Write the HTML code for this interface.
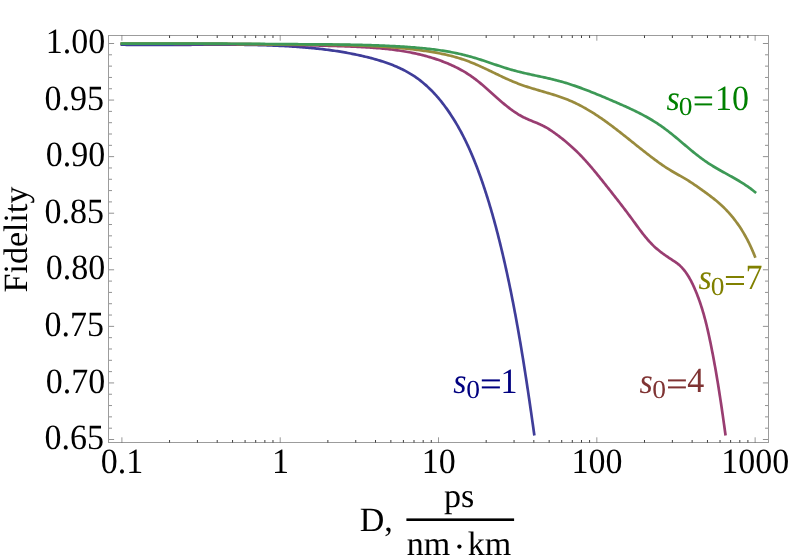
<!DOCTYPE html>
<html><head><meta charset="utf-8"><title>Fidelity vs D</title>
<style>
html,body{margin:0;padding:0;background:#fff;}
body{width:789px;height:557px;overflow:hidden;position:relative;font-family:"Liberation Serif",serif;}
</style></head><body>
<svg width="789" height="557" viewBox="0 0 789 557" style="display:block;position:absolute;left:0;top:0;will-change:transform">
<rect width="789" height="557" fill="#ffffff"/>
<g fill="none" stroke-linecap="square" stroke-linejoin="round" stroke-width="2.70">
<path stroke="#3f3d99" d="M121.90,44.71 L123.39,44.74 L124.89,44.76 L126.38,44.79 L127.88,44.81 L129.37,44.84 L130.87,44.86 L132.36,44.87 L133.86,44.89 L135.35,44.91 L136.85,44.92 L138.35,44.93 L139.84,44.94 L141.34,44.95 L142.84,44.96 L144.33,44.97 L145.83,44.98 L147.33,44.98 L148.83,44.98 L150.33,44.99 L151.82,44.99 L153.32,44.99 L154.82,44.99 L156.32,44.98 L157.82,44.98 L159.32,44.98 L160.82,44.97 L162.32,44.97 L163.82,44.96 L165.32,44.96 L166.82,44.95 L168.32,44.94 L169.82,44.93 L171.32,44.92 L172.82,44.92 L174.32,44.91 L175.82,44.90 L177.32,44.89 L178.82,44.87 L180.32,44.86 L181.82,44.85 L183.33,44.84 L184.83,44.83 L186.33,44.82 L187.83,44.81 L189.33,44.80 L190.83,44.78 L192.33,44.77 L193.84,44.76 L195.34,44.75 L196.84,44.74 L198.34,44.73 L199.84,44.72 L201.34,44.71 L202.85,44.70 L204.35,44.69 L205.85,44.68 L207.35,44.67 L208.85,44.67 L210.36,44.66 L211.86,44.65 L213.36,44.65 L214.86,44.64 L216.36,44.64 L217.86,44.64 L219.36,44.64 L220.87,44.63 L222.37,44.63 L223.87,44.63 L225.37,44.64 L226.87,44.64 L228.37,44.64 L229.87,44.65 L231.37,44.66 L232.87,44.66 L234.37,44.67 L235.87,44.68 L237.38,44.70 L238.88,44.71 L240.38,44.73 L241.88,44.74 L243.38,44.76 L244.87,44.78 L246.37,44.80 L247.87,44.82 L249.37,44.85 L250.87,44.88 L252.37,44.90 L253.87,44.94 L255.37,44.97 L256.87,45.00 L258.36,45.04 L259.86,45.08 L261.36,45.12 L262.86,45.16 L264.35,45.21 L265.85,45.25 L267.35,45.30 L268.84,45.36 L270.34,45.41 L271.84,45.47 L273.33,45.53 L274.83,45.59 L276.32,45.65 L277.82,45.72 L279.31,45.79 L280.81,45.86 L282.30,45.94 L283.79,46.01 L285.29,46.09 L286.78,46.18 L288.27,46.26 L289.77,46.35 L291.26,46.45 L292.75,46.54 L294.24,46.64 L295.73,46.74 L297.22,46.85 L298.71,46.95 L300.20,47.06 L301.69,47.18 L303.18,47.30 L304.67,47.42 L306.16,47.55 L307.65,47.67 L309.14,47.81 L310.63,47.95 L312.11,48.09 L313.60,48.23 L315.09,48.38 L316.57,48.54 L318.06,48.70 L319.54,48.86 L321.03,49.03 L322.51,49.20 L324.00,49.38 L325.48,49.56 L326.96,49.75 L328.45,49.94 L329.93,50.14 L331.41,50.34 L332.89,50.55 L334.37,50.77 L335.86,50.99 L337.34,51.21 L338.82,51.44 L340.30,51.68 L341.77,51.93 L343.25,52.18 L344.73,52.43 L346.21,52.69 L347.69,52.96 L349.16,53.24 L350.64,53.52 L352.11,53.80 L353.59,54.10 L355.06,54.40 L356.54,54.70 L358.01,55.02 L359.48,55.34 L360.96,55.67 L362.43,56.00 L363.90,56.34 L365.37,56.69 L366.84,57.05 L368.30,57.41 L369.77,57.78 L371.23,58.16 L372.69,58.55 L374.15,58.95 L375.60,59.36 L377.05,59.77 L378.50,60.20 L379.94,60.64 L381.38,61.09 L382.82,61.55 L384.25,62.02 L385.67,62.50 L387.09,63.00 L388.50,63.51 L389.91,64.03 L391.31,64.56 L392.70,65.10 L394.08,65.66 L395.46,66.24 L396.83,66.82 L398.19,67.43 L399.55,68.04 L400.89,68.67 L402.23,69.32 L403.56,69.98 L404.87,70.66 L406.18,71.36 L407.48,72.07 L408.77,72.80 L410.04,73.55 L411.31,74.31 L412.56,75.09 L413.80,75.89 L415.03,76.71 L416.25,77.55 L417.45,78.40 L418.65,79.28 L419.83,80.17 L421.00,81.08 L422.15,82.01 L423.30,82.95 L424.43,83.91 L425.55,84.89 L426.66,85.88 L427.75,86.88 L428.84,87.91 L429.91,88.94 L430.97,89.99 L432.02,91.06 L433.06,92.13 L434.09,93.22 L435.11,94.33 L436.11,95.44 L437.11,96.57 L438.09,97.71 L439.07,98.85 L440.03,100.01 L440.98,101.19 L441.92,102.37 L442.85,103.56 L443.77,104.75 L444.67,105.96 L445.57,107.18 L446.46,108.40 L447.34,109.63 L448.20,110.87 L449.06,112.12 L449.91,113.37 L450.75,114.63 L451.57,115.90 L452.39,117.17 L453.20,118.44 L453.99,119.72 L454.78,121.01 L455.56,122.29 L456.33,123.59 L457.09,124.88 L457.84,126.19 L458.58,127.49 L459.31,128.80 L460.04,130.11 L460.75,131.43 L461.46,132.75 L462.16,134.08 L462.85,135.41 L463.53,136.74 L464.21,138.08 L464.87,139.42 L465.53,140.76 L466.19,142.11 L466.83,143.46 L467.47,144.81 L468.10,146.16 L468.72,147.52 L469.33,148.89 L469.94,150.25 L470.54,151.62 L471.14,152.99 L471.73,154.36 L472.31,155.74 L472.89,157.12 L473.46,158.50 L474.03,159.88 L474.58,161.27 L475.14,162.66 L475.69,164.05 L476.23,165.44 L476.77,166.84 L477.30,168.23 L477.83,169.63 L478.35,171.03 L478.87,172.44 L479.38,173.84 L479.89,175.25 L480.39,176.66 L480.89,178.06 L481.39,179.48 L481.88,180.89 L482.37,182.30 L482.86,183.72 L483.34,185.13 L483.81,186.55 L484.29,187.97 L484.76,189.39 L485.22,190.81 L485.68,192.24 L486.14,193.66 L486.60,195.09 L487.05,196.51 L487.50,197.94 L487.94,199.37 L488.39,200.80 L488.82,202.23 L489.26,203.66 L489.69,205.09 L490.12,206.53 L490.55,207.96 L490.97,209.40 L491.39,210.84 L491.80,212.28 L492.22,213.72 L492.63,215.16 L493.03,216.60 L493.44,218.04 L493.84,219.48 L494.24,220.92 L494.63,222.37 L495.03,223.81 L495.42,225.26 L495.80,226.71 L496.19,228.15 L496.57,229.60 L496.95,231.05 L497.33,232.50 L497.70,233.95 L498.07,235.40 L498.44,236.85 L498.81,238.30 L499.18,239.76 L499.54,241.21 L499.90,242.66 L500.26,244.12 L500.61,245.57 L500.97,247.03 L501.32,248.48 L501.67,249.94 L502.02,251.40 L502.36,252.85 L502.71,254.31 L503.05,255.77 L503.39,257.23 L503.73,258.68 L504.06,260.14 L504.40,261.60 L504.73,263.06 L505.06,264.52 L505.39,265.98 L505.71,267.44 L506.04,268.90 L506.36,270.36 L506.68,271.83 L507.00,273.29 L507.32,274.75 L507.63,276.21 L507.95,277.68 L508.26,279.14 L508.57,280.60 L508.88,282.07 L509.19,283.53 L509.49,284.99 L509.80,286.46 L510.10,287.92 L510.40,289.39 L510.70,290.86 L511.00,292.32 L511.29,293.79 L511.59,295.26 L511.88,296.72 L512.17,298.19 L512.46,299.66 L512.75,301.13 L513.04,302.59 L513.32,304.06 L513.60,305.53 L513.89,307.00 L514.17,308.47 L514.45,309.94 L514.72,311.41 L515.00,312.88 L515.28,314.35 L515.55,315.82 L515.82,317.29 L516.09,318.76 L516.36,320.24 L516.63,321.71 L516.90,323.18 L517.16,324.65 L517.43,326.13 L517.69,327.60 L517.95,329.07 L518.21,330.55 L518.47,332.02 L518.73,333.49 L518.99,334.97 L519.24,336.44 L519.50,337.92 L519.75,339.39 L520.00,340.87 L520.26,342.34 L520.51,343.82 L520.75,345.29 L521.00,346.77 L521.25,348.25 L521.50,349.72 L521.74,351.20 L521.98,352.68 L522.23,354.16 L522.47,355.63 L522.71,357.11 L522.95,358.59 L523.19,360.07 L523.42,361.55 L523.66,363.02 L523.90,364.50 L524.13,365.98 L524.37,367.46 L524.60,368.94 L524.83,370.42 L525.06,371.90 L525.29,373.38 L525.52,374.86 L525.75,376.34 L525.98,377.82 L526.21,379.30 L526.44,380.78 L526.66,382.26 L526.89,383.75 L527.11,385.23 L527.33,386.71 L527.56,388.19 L527.78,389.67 L528.00,391.16 L528.22,392.64 L528.44,394.12 L528.66,395.60 L528.88,397.09 L529.10,398.57 L529.32,400.05 L529.54,401.53 L529.75,403.02 L529.97,404.50 L530.18,405.99 L530.40,407.47 L530.61,408.95 L530.83,410.44 L531.04,411.92 L531.26,413.41 L531.47,414.89 L531.68,416.38 L531.89,417.86 L532.10,419.34 L532.32,420.83 L532.53,422.32 L532.74,423.80 L532.95,425.29 L533.16,426.77 L533.37,428.26 L533.58,429.74 L533.78,431.23 L533.99,432.71 L534.20,434.20"/>
<path stroke="#993d71" d="M121.90,43.74 L123.40,43.74 L124.90,43.74 L126.41,43.74 L127.91,43.74 L129.41,43.74 L130.91,43.74 L132.41,43.74 L133.91,43.74 L135.42,43.74 L136.92,43.74 L138.42,43.74 L139.92,43.74 L141.42,43.75 L142.92,43.75 L144.42,43.75 L145.92,43.75 L147.42,43.75 L148.92,43.75 L150.42,43.75 L151.92,43.75 L153.42,43.75 L154.92,43.75 L156.42,43.75 L157.92,43.75 L159.42,43.76 L160.92,43.76 L162.41,43.76 L163.91,43.76 L165.41,43.76 L166.91,43.76 L168.41,43.77 L169.91,43.77 L171.41,43.77 L172.90,43.77 L174.40,43.78 L175.90,43.78 L177.40,43.78 L178.90,43.78 L180.40,43.79 L181.89,43.79 L183.39,43.80 L184.89,43.80 L186.39,43.80 L187.88,43.81 L189.38,43.81 L190.88,43.82 L192.38,43.82 L193.87,43.83 L195.37,43.83 L196.87,43.84 L198.37,43.84 L199.86,43.85 L201.36,43.85 L202.86,43.86 L204.35,43.87 L205.85,43.87 L207.35,43.88 L208.85,43.89 L210.34,43.90 L211.84,43.90 L213.34,43.91 L214.83,43.92 L216.33,43.93 L217.83,43.94 L219.32,43.95 L220.82,43.96 L222.32,43.97 L223.81,43.98 L225.31,43.99 L226.81,44.00 L228.30,44.01 L229.80,44.02 L231.30,44.04 L232.79,44.05 L234.29,44.06 L235.79,44.07 L237.29,44.09 L238.78,44.10 L240.28,44.11 L241.78,44.13 L243.27,44.14 L244.77,44.16 L246.27,44.18 L247.76,44.19 L249.26,44.21 L250.76,44.22 L252.25,44.24 L253.75,44.26 L255.25,44.28 L256.75,44.30 L258.24,44.32 L259.74,44.33 L261.24,44.35 L262.74,44.37 L264.23,44.40 L265.73,44.42 L267.23,44.44 L268.73,44.46 L270.22,44.48 L271.72,44.51 L273.22,44.53 L274.72,44.55 L276.21,44.58 L277.71,44.60 L279.21,44.63 L280.71,44.65 L282.21,44.68 L283.70,44.71 L285.20,44.74 L286.70,44.76 L288.20,44.79 L289.70,44.82 L291.20,44.85 L292.70,44.88 L294.20,44.91 L295.69,44.94 L297.19,44.98 L298.69,45.01 L300.19,45.04 L301.69,45.07 L303.19,45.11 L304.69,45.14 L306.19,45.18 L307.69,45.22 L309.19,45.25 L310.69,45.29 L312.19,45.33 L313.69,45.37 L315.19,45.40 L316.69,45.44 L318.19,45.48 L319.69,45.53 L321.20,45.57 L322.70,45.61 L324.20,45.65 L325.70,45.70 L327.20,45.74 L328.70,45.78 L330.20,45.83 L331.71,45.88 L333.21,45.92 L334.71,45.97 L336.21,46.02 L337.72,46.07 L339.22,46.12 L340.72,46.17 L342.23,46.22 L343.73,46.27 L345.23,46.32 L346.74,46.38 L348.24,46.43 L349.74,46.49 L351.25,46.55 L352.75,46.61 L354.25,46.68 L355.75,46.74 L357.26,46.81 L358.76,46.88 L360.26,46.96 L361.76,47.04 L363.26,47.12 L364.76,47.20 L366.26,47.29 L367.76,47.38 L369.26,47.48 L370.76,47.58 L372.25,47.68 L373.75,47.79 L375.25,47.91 L376.74,48.03 L378.23,48.15 L379.73,48.28 L381.22,48.41 L382.71,48.55 L384.20,48.70 L385.69,48.85 L387.17,49.01 L388.66,49.18 L390.15,49.35 L391.63,49.52 L393.11,49.71 L394.59,49.90 L396.07,50.10 L397.55,50.31 L399.03,50.52 L400.50,50.74 L401.97,50.97 L403.45,51.21 L404.92,51.46 L406.38,51.71 L407.85,51.98 L409.31,52.25 L410.78,52.53 L412.24,52.82 L413.70,53.12 L415.15,53.43 L416.61,53.75 L418.06,54.08 L419.51,54.42 L420.96,54.77 L422.41,55.13 L423.85,55.50 L425.29,55.88 L426.73,56.28 L428.17,56.68 L429.60,57.09 L431.03,57.52 L432.46,57.96 L433.89,58.41 L435.31,58.87 L436.74,59.35 L438.15,59.84 L439.57,60.34 L440.98,60.85 L442.39,61.38 L443.80,61.91 L445.20,62.47 L446.60,63.03 L447.99,63.61 L449.38,64.21 L450.76,64.81 L452.14,65.43 L453.51,66.07 L454.87,66.72 L456.22,67.38 L457.57,68.06 L458.91,68.76 L460.23,69.47 L461.55,70.19 L462.86,70.93 L464.16,71.69 L465.45,72.46 L466.72,73.24 L467.99,74.05 L469.24,74.87 L470.48,75.70 L471.71,76.55 L472.92,77.42 L474.13,78.30 L475.32,79.20 L476.50,80.11 L477.67,81.03 L478.84,81.96 L480.00,82.90 L481.14,83.86 L482.29,84.82 L483.42,85.79 L484.56,86.76 L485.68,87.75 L486.81,88.73 L487.93,89.73 L489.05,90.72 L490.16,91.72 L491.28,92.72 L492.39,93.73 L493.51,94.73 L494.63,95.73 L495.75,96.73 L496.87,97.73 L498.00,98.73 L499.13,99.72 L500.26,100.71 L501.40,101.69 L502.55,102.67 L503.70,103.63 L504.86,104.59 L506.03,105.54 L507.20,106.48 L508.38,107.41 L509.58,108.33 L510.78,109.23 L511.99,110.11 L513.20,110.98 L514.43,111.83 L515.67,112.67 L516.92,113.48 L518.18,114.27 L519.45,115.04 L520.74,115.78 L522.04,116.49 L523.36,117.18 L524.70,117.83 L526.05,118.47 L527.41,119.08 L528.78,119.68 L530.16,120.26 L531.55,120.83 L532.94,121.40 L534.33,121.97 L535.71,122.54 L537.10,123.12 L538.48,123.71 L539.85,124.31 L541.22,124.94 L542.57,125.58 L543.90,126.26 L545.22,126.96 L546.52,127.70 L547.81,128.46 L549.08,129.25 L550.34,130.06 L551.58,130.89 L552.82,131.74 L554.05,132.60 L555.27,133.48 L556.48,134.36 L557.69,135.25 L558.89,136.15 L560.08,137.06 L561.27,137.98 L562.45,138.91 L563.62,139.84 L564.78,140.79 L565.94,141.74 L567.09,142.71 L568.23,143.68 L569.36,144.66 L570.48,145.66 L571.60,146.66 L572.71,147.67 L573.81,148.68 L574.90,149.71 L575.98,150.75 L577.05,151.79 L578.11,152.85 L579.17,153.91 L580.21,154.98 L581.25,156.06 L582.28,157.15 L583.31,158.24 L584.32,159.34 L585.33,160.45 L586.34,161.56 L587.34,162.68 L588.33,163.80 L589.31,164.93 L590.29,166.07 L591.27,167.21 L592.24,168.35 L593.21,169.50 L594.17,170.65 L595.12,171.81 L596.08,172.97 L597.03,174.13 L597.98,175.29 L598.92,176.46 L599.86,177.63 L600.80,178.80 L601.74,179.97 L602.67,181.14 L603.61,182.31 L604.54,183.49 L605.47,184.66 L606.40,185.83 L607.33,187.01 L608.26,188.18 L609.19,189.35 L610.11,190.53 L611.04,191.70 L611.96,192.87 L612.89,194.05 L613.81,195.22 L614.73,196.40 L615.65,197.58 L616.57,198.75 L617.49,199.93 L618.41,201.11 L619.32,202.29 L620.24,203.48 L621.15,204.66 L622.06,205.85 L622.97,207.03 L623.88,208.22 L624.79,209.42 L625.69,210.61 L626.59,211.80 L627.50,213.00 L628.40,214.20 L629.29,215.40 L630.19,216.61 L631.08,217.82 L631.98,219.03 L632.87,220.24 L633.75,221.46 L634.64,222.67 L635.53,223.89 L636.42,225.11 L637.31,226.33 L638.20,227.55 L639.09,228.76 L639.99,229.97 L640.90,231.17 L641.81,232.37 L642.73,233.56 L643.66,234.74 L644.59,235.92 L645.54,237.08 L646.50,238.23 L647.47,239.37 L648.45,240.49 L649.45,241.60 L650.46,242.69 L651.49,243.77 L652.54,244.83 L653.60,245.87 L654.69,246.89 L655.79,247.88 L656.91,248.86 L658.05,249.82 L659.21,250.76 L660.38,251.69 L661.57,252.60 L662.77,253.49 L663.98,254.37 L665.20,255.24 L666.44,256.10 L667.68,256.95 L668.93,257.79 L670.19,258.62 L671.45,259.44 L672.72,260.26 L673.98,261.09 L675.23,261.93 L676.45,262.79 L677.64,263.69 L678.79,264.62 L679.89,265.61 L680.96,266.63 L681.98,267.68 L682.97,268.78 L683.92,269.90 L684.84,271.06 L685.73,272.25 L686.59,273.46 L687.41,274.70 L688.21,275.97 L688.99,277.25 L689.73,278.56 L690.46,279.88 L691.16,281.21 L691.84,282.56 L692.51,283.92 L693.15,285.28 L693.78,286.66 L694.40,288.04 L695.00,289.42 L695.59,290.81 L696.17,292.20 L696.74,293.59 L697.29,294.99 L697.83,296.39 L698.36,297.80 L698.87,299.21 L699.38,300.62 L699.87,302.04 L700.36,303.46 L700.83,304.88 L701.29,306.30 L701.75,307.73 L702.19,309.16 L702.63,310.59 L703.05,312.03 L703.47,313.47 L703.88,314.91 L704.28,316.35 L704.67,317.79 L705.06,319.24 L705.44,320.69 L705.81,322.14 L706.17,323.59 L706.53,325.05 L706.88,326.50 L707.23,327.96 L707.57,329.42 L707.91,330.88 L708.24,332.34 L708.56,333.80 L708.88,335.26 L709.20,336.73 L709.51,338.19 L709.82,339.66 L710.13,341.12 L710.44,342.59 L710.74,344.06 L711.03,345.53 L711.33,347.00 L711.62,348.46 L711.91,349.93 L712.20,351.40 L712.49,352.87 L712.77,354.34 L713.05,355.82 L713.33,357.29 L713.60,358.76 L713.88,360.23 L714.15,361.70 L714.42,363.18 L714.68,364.65 L714.95,366.12 L715.21,367.60 L715.47,369.07 L715.73,370.55 L715.99,372.02 L716.24,373.50 L716.49,374.97 L716.74,376.45 L716.99,377.93 L717.24,379.40 L717.48,380.88 L717.73,382.36 L717.97,383.84 L718.21,385.31 L718.44,386.79 L718.68,388.27 L718.91,389.75 L719.15,391.23 L719.38,392.71 L719.61,394.19 L719.84,395.67 L720.06,397.15 L720.29,398.63 L720.52,400.11 L720.74,401.59 L720.96,403.07 L721.18,404.55 L721.40,406.03 L721.62,407.51 L721.84,409.00 L722.05,410.48 L722.27,411.96 L722.48,413.44 L722.70,414.92 L722.91,416.41 L723.12,417.89 L723.33,419.37 L723.54,420.85 L723.75,422.34 L723.96,423.82 L724.17,425.30 L724.37,426.78 L724.58,428.27 L724.79,429.75 L724.99,431.23 L725.20,432.72 L725.40,434.20"/>
<path stroke="#998b3d" d="M121.90,43.69 L123.40,43.68 L124.90,43.67 L126.39,43.67 L127.89,43.66 L129.39,43.65 L130.89,43.65 L132.38,43.64 L133.88,43.64 L135.38,43.63 L136.87,43.63 L138.37,43.62 L139.87,43.62 L141.37,43.61 L142.86,43.61 L144.36,43.61 L145.86,43.61 L147.36,43.61 L148.85,43.60 L150.35,43.60 L151.85,43.60 L153.35,43.60 L154.84,43.60 L156.34,43.60 L157.84,43.60 L159.33,43.61 L160.83,43.61 L162.33,43.61 L163.83,43.61 L165.32,43.61 L166.82,43.62 L168.32,43.62 L169.81,43.62 L171.31,43.63 L172.81,43.63 L174.31,43.64 L175.80,43.64 L177.30,43.65 L178.80,43.65 L180.29,43.66 L181.79,43.66 L183.29,43.67 L184.79,43.68 L186.28,43.68 L187.78,43.69 L189.28,43.70 L190.77,43.71 L192.27,43.71 L193.77,43.72 L195.27,43.73 L196.76,43.74 L198.26,43.75 L199.76,43.76 L201.25,43.77 L202.75,43.77 L204.25,43.78 L205.74,43.79 L207.24,43.80 L208.74,43.81 L210.24,43.82 L211.73,43.83 L213.23,43.84 L214.73,43.86 L216.22,43.87 L217.72,43.88 L219.22,43.89 L220.71,43.90 L222.21,43.91 L223.71,43.92 L225.21,43.93 L226.70,43.95 L228.20,43.96 L229.70,43.97 L231.19,43.98 L232.69,43.99 L234.19,44.01 L235.69,44.02 L237.18,44.03 L238.68,44.04 L240.18,44.06 L241.67,44.07 L243.17,44.08 L244.67,44.09 L246.17,44.11 L247.66,44.12 L249.16,44.13 L250.66,44.15 L252.15,44.16 L253.65,44.17 L255.15,44.18 L256.65,44.20 L258.14,44.21 L259.64,44.22 L261.14,44.24 L262.63,44.25 L264.13,44.26 L265.63,44.28 L267.13,44.29 L268.62,44.30 L270.12,44.31 L271.62,44.33 L273.12,44.34 L274.61,44.35 L276.11,44.37 L277.61,44.38 L279.10,44.39 L280.60,44.40 L282.10,44.42 L283.60,44.43 L285.09,44.44 L286.59,44.45 L288.09,44.46 L289.59,44.48 L291.08,44.49 L292.58,44.50 L294.08,44.51 L295.58,44.52 L297.07,44.53 L298.57,44.55 L300.07,44.56 L301.57,44.57 L303.07,44.58 L304.56,44.59 L306.06,44.60 L307.56,44.61 L309.06,44.62 L310.55,44.63 L312.05,44.64 L313.55,44.66 L315.05,44.67 L316.54,44.68 L318.04,44.69 L319.54,44.71 L321.04,44.72 L322.53,44.74 L324.03,44.75 L325.53,44.77 L327.03,44.79 L328.52,44.81 L330.02,44.83 L331.52,44.85 L333.02,44.87 L334.51,44.89 L336.01,44.92 L337.51,44.94 L339.01,44.97 L340.50,45.00 L342.00,45.03 L343.50,45.06 L344.99,45.10 L346.49,45.13 L347.99,45.17 L349.48,45.21 L350.98,45.25 L352.47,45.29 L353.97,45.33 L355.47,45.38 L356.96,45.43 L358.46,45.48 L359.95,45.53 L361.45,45.59 L362.95,45.64 L364.44,45.70 L365.94,45.77 L367.43,45.83 L368.93,45.90 L370.42,45.97 L371.92,46.04 L373.41,46.12 L374.90,46.20 L376.40,46.28 L377.89,46.36 L379.39,46.45 L380.88,46.54 L382.37,46.64 L383.87,46.73 L385.36,46.83 L386.85,46.94 L388.35,47.04 L389.84,47.15 L391.33,47.27 L392.82,47.39 L394.31,47.51 L395.81,47.63 L397.30,47.76 L398.79,47.89 L400.28,48.03 L401.77,48.17 L403.26,48.32 L404.75,48.46 L406.24,48.62 L407.73,48.77 L409.22,48.94 L410.71,49.10 L412.20,49.27 L413.69,49.44 L415.18,49.62 L416.67,49.81 L418.16,49.99 L419.65,50.19 L421.13,50.38 L422.62,50.59 L424.11,50.79 L425.59,51.01 L427.08,51.23 L428.56,51.45 L430.05,51.68 L431.53,51.92 L433.01,52.17 L434.49,52.42 L435.97,52.68 L437.44,52.95 L438.91,53.23 L440.38,53.52 L441.85,53.82 L443.32,54.12 L444.78,54.44 L446.24,54.76 L447.70,55.10 L449.15,55.45 L450.60,55.80 L452.05,56.17 L453.49,56.55 L454.93,56.95 L456.36,57.35 L457.79,57.77 L459.22,58.20 L460.64,58.65 L462.06,59.11 L463.47,59.58 L464.88,60.07 L466.28,60.57 L467.67,61.08 L469.06,61.61 L470.45,62.15 L471.83,62.71 L473.21,63.27 L474.59,63.85 L475.96,64.44 L477.33,65.03 L478.69,65.64 L480.06,66.25 L481.42,66.87 L482.77,67.49 L484.13,68.13 L485.48,68.76 L486.84,69.40 L488.19,70.05 L489.54,70.69 L490.89,71.34 L492.24,71.99 L493.59,72.64 L494.94,73.29 L496.29,73.94 L497.65,74.59 L499.00,75.24 L500.35,75.88 L501.71,76.52 L503.07,77.16 L504.43,77.79 L505.79,78.41 L507.15,79.03 L508.52,79.64 L509.89,80.24 L511.27,80.84 L512.65,81.42 L514.03,82.00 L515.42,82.56 L516.81,83.11 L518.20,83.65 L519.60,84.18 L521.01,84.70 L522.42,85.20 L523.84,85.69 L525.26,86.17 L526.68,86.64 L528.10,87.10 L529.53,87.56 L530.97,88.00 L532.40,88.44 L533.84,88.88 L535.27,89.31 L536.71,89.73 L538.15,90.16 L539.60,90.58 L541.04,91.00 L542.48,91.42 L543.92,91.84 L545.36,92.26 L546.80,92.68 L548.23,93.11 L549.67,93.53 L551.10,93.97 L552.53,94.41 L553.96,94.85 L555.39,95.30 L556.81,95.76 L558.23,96.23 L559.64,96.71 L561.05,97.20 L562.45,97.70 L563.85,98.21 L565.25,98.73 L566.63,99.27 L568.02,99.82 L569.39,100.39 L570.76,100.97 L572.12,101.57 L573.47,102.18 L574.82,102.81 L576.17,103.45 L577.50,104.10 L578.83,104.77 L580.16,105.45 L581.47,106.15 L582.79,106.85 L584.09,107.57 L585.39,108.30 L586.69,109.05 L587.98,109.80 L589.26,110.56 L590.54,111.34 L591.82,112.12 L593.09,112.92 L594.35,113.72 L595.61,114.53 L596.87,115.35 L598.12,116.18 L599.36,117.02 L600.60,117.87 L601.84,118.72 L603.07,119.58 L604.30,120.45 L605.53,121.32 L606.75,122.20 L607.96,123.08 L609.18,123.97 L610.38,124.87 L611.59,125.77 L612.79,126.67 L613.99,127.58 L615.19,128.49 L616.38,129.41 L617.57,130.33 L618.75,131.25 L619.94,132.17 L621.12,133.10 L622.30,134.02 L623.47,134.95 L624.64,135.88 L625.82,136.81 L626.98,137.74 L628.15,138.67 L629.31,139.60 L630.48,140.53 L631.64,141.46 L632.80,142.39 L633.96,143.32 L635.12,144.25 L636.28,145.18 L637.44,146.10 L638.60,147.03 L639.77,147.95 L640.93,148.88 L642.10,149.80 L643.26,150.72 L644.43,151.64 L645.60,152.56 L646.77,153.48 L647.95,154.39 L649.13,155.30 L650.31,156.21 L651.50,157.12 L652.69,158.02 L653.88,158.92 L655.08,159.82 L656.29,160.71 L657.50,161.60 L658.71,162.48 L659.93,163.35 L661.16,164.22 L662.39,165.07 L663.62,165.92 L664.87,166.75 L666.12,167.58 L667.38,168.39 L668.65,169.19 L669.92,169.97 L671.20,170.74 L672.49,171.50 L673.78,172.26 L675.08,173.00 L676.38,173.74 L677.68,174.47 L678.98,175.20 L680.28,175.93 L681.58,176.67 L682.88,177.41 L684.17,178.15 L685.45,178.90 L686.73,179.67 L688.00,180.44 L689.27,181.23 L690.52,182.03 L691.77,182.85 L693.00,183.68 L694.24,184.52 L695.46,185.36 L696.69,186.22 L697.91,187.08 L699.13,187.95 L700.36,188.82 L701.58,189.69 L702.80,190.56 L704.02,191.44 L705.25,192.32 L706.46,193.21 L707.68,194.10 L708.89,195.00 L710.09,195.91 L711.29,196.82 L712.48,197.74 L713.67,198.68 L714.84,199.61 L716.01,200.56 L717.17,201.52 L718.31,202.50 L719.44,203.48 L720.56,204.47 L721.67,205.48 L722.76,206.51 L723.84,207.54 L724.90,208.59 L725.94,209.66 L726.97,210.74 L727.99,211.83 L728.99,212.93 L729.98,214.05 L730.95,215.17 L731.91,216.31 L732.85,217.47 L733.78,218.63 L734.69,219.81 L735.59,220.99 L736.48,222.19 L737.35,223.40 L738.21,224.62 L739.06,225.85 L739.89,227.09 L740.70,228.34 L741.51,229.60 L742.30,230.87 L743.08,232.14 L743.84,233.43 L744.59,234.72 L745.33,236.02 L746.05,237.34 L746.77,238.65 L747.47,239.98 L748.15,241.31 L748.83,242.65 L749.49,244.00 L750.14,245.36 L750.77,246.72 L751.40,248.08 L752.01,249.46 L752.61,250.84 L753.20,252.22 L753.78,253.61 L754.34,255.00 L754.90,256.40"/>
<path stroke="#3d9956" d="M121.90,43.63 L123.40,43.64 L124.90,43.64 L126.40,43.65 L127.90,43.65 L129.40,43.65 L130.90,43.66 L132.40,43.66 L133.90,43.66 L135.40,43.67 L136.90,43.67 L138.40,43.67 L139.90,43.67 L141.40,43.68 L142.90,43.68 L144.40,43.68 L145.90,43.68 L147.40,43.68 L148.90,43.68 L150.40,43.68 L151.90,43.68 L153.40,43.68 L154.90,43.68 L156.40,43.68 L157.90,43.68 L159.39,43.68 L160.89,43.68 L162.39,43.68 L163.89,43.68 L165.39,43.67 L166.89,43.67 L168.39,43.67 L169.89,43.67 L171.39,43.67 L172.89,43.67 L174.39,43.67 L175.89,43.67 L177.39,43.66 L178.89,43.66 L180.39,43.66 L181.89,43.66 L183.39,43.66 L184.89,43.66 L186.39,43.66 L187.89,43.66 L189.39,43.66 L190.89,43.66 L192.39,43.66 L193.89,43.66 L195.38,43.66 L196.88,43.66 L198.38,43.66 L199.88,43.66 L201.38,43.66 L202.88,43.66 L204.38,43.66 L205.88,43.66 L207.38,43.66 L208.88,43.67 L210.38,43.67 L211.88,43.67 L213.38,43.68 L214.88,43.68 L216.38,43.68 L217.88,43.69 L219.38,43.69 L220.88,43.70 L222.38,43.70 L223.88,43.71 L225.38,43.71 L226.88,43.72 L228.38,43.73 L229.88,43.73 L231.38,43.74 L232.88,43.75 L234.38,43.76 L235.88,43.77 L237.38,43.77 L238.88,43.78 L240.38,43.79 L241.88,43.80 L243.38,43.81 L244.88,43.82 L246.38,43.83 L247.88,43.84 L249.38,43.85 L250.88,43.86 L252.38,43.87 L253.88,43.88 L255.38,43.90 L256.88,43.91 L258.38,43.92 L259.88,43.93 L261.38,43.94 L262.88,43.95 L264.38,43.96 L265.88,43.98 L267.38,43.99 L268.88,44.00 L270.38,44.01 L271.88,44.02 L273.38,44.04 L274.88,44.05 L276.38,44.06 L277.88,44.07 L279.38,44.08 L280.88,44.10 L282.38,44.11 L283.88,44.12 L285.38,44.13 L286.87,44.14 L288.37,44.15 L289.87,44.16 L291.37,44.18 L292.87,44.19 L294.37,44.20 L295.87,44.21 L297.37,44.22 L298.87,44.23 L300.37,44.24 L301.87,44.25 L303.37,44.26 L304.87,44.27 L306.37,44.28 L307.87,44.29 L309.37,44.30 L310.86,44.31 L312.36,44.32 L313.86,44.33 L315.36,44.34 L316.86,44.35 L318.36,44.36 L319.86,44.37 L321.36,44.38 L322.86,44.39 L324.36,44.41 L325.85,44.42 L327.35,44.43 L328.85,44.45 L330.35,44.46 L331.85,44.47 L333.35,44.49 L334.85,44.51 L336.35,44.52 L337.85,44.54 L339.35,44.56 L340.84,44.58 L342.34,44.60 L343.84,44.62 L345.34,44.64 L346.84,44.67 L348.34,44.69 L349.84,44.72 L351.34,44.74 L352.84,44.77 L354.34,44.80 L355.83,44.83 L357.33,44.86 L358.83,44.90 L360.33,44.93 L361.83,44.97 L363.33,45.00 L364.83,45.04 L366.33,45.08 L367.83,45.13 L369.33,45.17 L370.83,45.21 L372.33,45.26 L373.83,45.31 L375.33,45.36 L376.83,45.41 L378.32,45.47 L379.82,45.53 L381.32,45.58 L382.82,45.64 L384.32,45.71 L385.82,45.77 L387.32,45.84 L388.82,45.91 L390.32,45.98 L391.82,46.05 L393.32,46.13 L394.82,46.20 L396.32,46.28 L397.82,46.37 L399.33,46.45 L400.83,46.54 L402.33,46.63 L403.83,46.72 L405.33,46.82 L406.83,46.92 L408.33,47.02 L409.83,47.13 L411.33,47.24 L412.83,47.35 L414.32,47.47 L415.82,47.59 L417.32,47.72 L418.82,47.85 L420.31,47.98 L421.81,48.12 L423.31,48.27 L424.80,48.42 L426.29,48.57 L427.79,48.73 L429.28,48.90 L430.77,49.07 L432.26,49.25 L433.74,49.44 L435.23,49.63 L436.72,49.83 L438.20,50.03 L439.68,50.25 L441.17,50.47 L442.65,50.69 L444.12,50.93 L445.60,51.17 L447.08,51.42 L448.55,51.67 L450.02,51.94 L451.49,52.21 L452.96,52.50 L454.42,52.79 L455.89,53.09 L457.35,53.40 L458.81,53.72 L460.27,54.04 L461.72,54.38 L463.18,54.73 L464.63,55.08 L466.07,55.45 L467.52,55.83 L468.96,56.22 L470.40,56.61 L471.84,57.02 L473.28,57.44 L474.71,57.87 L476.14,58.30 L477.57,58.75 L479.00,59.20 L480.43,59.66 L481.85,60.12 L483.28,60.58 L484.70,61.06 L486.12,61.53 L487.54,62.01 L488.96,62.49 L490.39,62.97 L491.81,63.45 L493.23,63.93 L494.65,64.41 L496.07,64.89 L497.49,65.37 L498.92,65.84 L500.34,66.32 L501.77,66.78 L503.20,67.24 L504.63,67.70 L506.06,68.15 L507.49,68.59 L508.93,69.03 L510.36,69.45 L511.80,69.87 L513.25,70.28 L514.69,70.67 L516.14,71.06 L517.59,71.44 L519.04,71.80 L520.50,72.16 L521.96,72.52 L523.42,72.86 L524.88,73.20 L526.34,73.53 L527.80,73.86 L529.27,74.19 L530.74,74.51 L532.20,74.83 L533.67,75.14 L535.14,75.46 L536.60,75.77 L538.07,76.08 L539.54,76.40 L541.00,76.71 L542.47,77.03 L543.94,77.35 L545.40,77.67 L546.86,78.00 L548.32,78.33 L549.78,78.67 L551.24,79.01 L552.70,79.36 L554.15,79.71 L555.60,80.08 L557.05,80.45 L558.50,80.83 L559.94,81.22 L561.38,81.62 L562.82,82.03 L564.25,82.45 L565.68,82.88 L567.11,83.32 L568.54,83.77 L569.96,84.22 L571.38,84.69 L572.80,85.16 L574.22,85.64 L575.63,86.12 L577.04,86.62 L578.45,87.12 L579.86,87.63 L581.27,88.14 L582.67,88.66 L584.08,89.18 L585.48,89.72 L586.88,90.25 L588.27,90.80 L589.67,91.34 L591.07,91.89 L592.46,92.45 L593.85,93.01 L595.24,93.58 L596.63,94.14 L598.02,94.71 L599.41,95.29 L600.80,95.87 L602.19,96.45 L603.57,97.03 L604.96,97.61 L606.35,98.20 L607.73,98.79 L609.12,99.38 L610.50,99.97 L611.88,100.56 L613.27,101.16 L614.65,101.75 L616.03,102.35 L617.42,102.94 L618.80,103.54 L620.17,104.15 L621.55,104.75 L622.93,105.36 L624.30,105.97 L625.67,106.59 L627.04,107.21 L628.41,107.84 L629.77,108.47 L631.13,109.10 L632.49,109.75 L633.84,110.39 L635.19,111.05 L636.54,111.71 L637.88,112.37 L639.21,113.05 L640.54,113.73 L641.87,114.42 L643.19,115.12 L644.51,115.83 L645.82,116.54 L647.12,117.27 L648.42,118.00 L649.72,118.75 L651.00,119.50 L652.28,120.27 L653.55,121.04 L654.82,121.83 L656.07,122.63 L657.32,123.44 L658.57,124.26 L659.80,125.10 L661.03,125.95 L662.24,126.81 L663.46,127.68 L664.66,128.57 L665.86,129.46 L667.05,130.37 L668.23,131.28 L669.41,132.20 L670.58,133.13 L671.75,134.07 L672.92,135.01 L674.08,135.96 L675.24,136.91 L676.40,137.87 L677.55,138.83 L678.70,139.80 L679.85,140.76 L681.00,141.73 L682.15,142.70 L683.30,143.68 L684.44,144.65 L685.59,145.62 L686.74,146.59 L687.89,147.55 L689.04,148.52 L690.20,149.48 L691.36,150.43 L692.52,151.39 L693.68,152.33 L694.85,153.27 L696.02,154.21 L697.20,155.13 L698.38,156.05 L699.57,156.96 L700.76,157.86 L701.97,158.76 L703.17,159.64 L704.39,160.50 L705.61,161.36 L706.84,162.21 L708.08,163.04 L709.33,163.86 L710.59,164.66 L711.85,165.45 L713.12,166.23 L714.40,167.00 L715.69,167.77 L716.98,168.52 L718.27,169.27 L719.57,170.01 L720.88,170.74 L722.18,171.47 L723.49,172.20 L724.80,172.92 L726.11,173.65 L727.42,174.37 L728.73,175.09 L730.04,175.82 L731.35,176.55 L732.66,177.28 L733.96,178.02 L735.26,178.76 L736.56,179.51 L737.85,180.26 L739.14,181.03 L740.42,181.80 L741.69,182.59 L742.96,183.38 L744.22,184.19 L745.47,185.01 L746.71,185.85 L747.94,186.70 L749.17,187.57 L750.38,188.46 L751.58,189.36 L752.77,190.29 L753.94,191.23 L755.10,192.20"/>
</g>
<rect x="108.5" y="35.5" width="660.00" height="407.00" fill="none" stroke="#9c9c9c" stroke-width="1"/>
<path d="M109.0,439.50h5.1M768.0,439.50h-5.1M109.0,428.19h3.0M768.0,428.19h-3.0M109.0,416.87h3.0M768.0,416.87h-3.0M109.0,405.56h3.0M768.0,405.56h-3.0M109.0,394.24h3.0M768.0,394.24h-3.0M109.0,382.93h5.1M768.0,382.93h-5.1M109.0,371.61h3.0M768.0,371.61h-3.0M109.0,360.30h3.0M768.0,360.30h-3.0M109.0,348.99h3.0M768.0,348.99h-3.0M109.0,337.67h3.0M768.0,337.67h-3.0M109.0,326.36h5.1M768.0,326.36h-5.1M109.0,315.04h3.0M768.0,315.04h-3.0M109.0,303.73h3.0M768.0,303.73h-3.0M109.0,292.41h3.0M768.0,292.41h-3.0M109.0,281.10h3.0M768.0,281.10h-3.0M109.0,269.79h5.1M768.0,269.79h-5.1M109.0,258.47h3.0M768.0,258.47h-3.0M109.0,247.16h3.0M768.0,247.16h-3.0M109.0,235.84h3.0M768.0,235.84h-3.0M109.0,224.53h3.0M768.0,224.53h-3.0M109.0,213.21h5.1M768.0,213.21h-5.1M109.0,201.90h3.0M768.0,201.90h-3.0M109.0,190.59h3.0M768.0,190.59h-3.0M109.0,179.27h3.0M768.0,179.27h-3.0M109.0,167.96h3.0M768.0,167.96h-3.0M109.0,156.64h5.1M768.0,156.64h-5.1M109.0,145.33h3.0M768.0,145.33h-3.0M109.0,134.01h3.0M768.0,134.01h-3.0M109.0,122.70h3.0M768.0,122.70h-3.0M109.0,111.39h3.0M768.0,111.39h-3.0M109.0,100.07h5.1M768.0,100.07h-5.1M109.0,88.76h3.0M768.0,88.76h-3.0M109.0,77.44h3.0M768.0,77.44h-3.0M109.0,66.13h3.0M768.0,66.13h-3.0M109.0,54.81h3.0M768.0,54.81h-3.0M109.0,43.50h5.1M768.0,43.50h-5.1" stroke="#000" stroke-opacity="0.62" stroke-width="0.7" fill="none"/>
<path d="M121.90,442.5v-5.2M121.90,35.5v5.2M280.21,442.5v-5.2M280.21,35.5v5.2M438.52,442.5v-5.2M438.52,35.5v5.2M596.83,442.5v-5.2M596.83,35.5v5.2M755.14,442.5v-5.2M755.14,35.5v5.2" stroke="#000" stroke-opacity="0.5" stroke-width="0.8" fill="none"/>
<path d="M169.56,442.5v-2.5M169.56,35.5v2.5M197.43,442.5v-2.5M197.43,35.5v2.5M217.21,442.5v-2.5M217.21,35.5v2.5M232.55,442.5v-2.5M232.55,35.5v2.5M245.09,442.5v-2.5M245.09,35.5v2.5M255.69,442.5v-2.5M255.69,35.5v2.5M264.87,442.5v-2.5M264.87,35.5v2.5M272.97,442.5v-2.5M272.97,35.5v2.5M327.87,442.5v-2.5M327.87,35.5v2.5M355.74,442.5v-2.5M355.74,35.5v2.5M375.52,442.5v-2.5M375.52,35.5v2.5M390.86,442.5v-2.5M390.86,35.5v2.5M403.40,442.5v-2.5M403.40,35.5v2.5M414.00,442.5v-2.5M414.00,35.5v2.5M423.18,442.5v-2.5M423.18,35.5v2.5M431.28,442.5v-2.5M431.28,35.5v2.5M486.18,442.5v-2.5M486.18,35.5v2.5M514.05,442.5v-2.5M514.05,35.5v2.5M533.83,442.5v-2.5M533.83,35.5v2.5M549.17,442.5v-2.5M549.17,35.5v2.5M561.71,442.5v-2.5M561.71,35.5v2.5M572.31,442.5v-2.5M572.31,35.5v2.5M581.49,442.5v-2.5M581.49,35.5v2.5M589.59,442.5v-2.5M589.59,35.5v2.5M644.49,442.5v-2.5M644.49,35.5v2.5M672.36,442.5v-2.5M672.36,35.5v2.5M692.14,442.5v-2.5M692.14,35.5v2.5M707.48,442.5v-2.5M707.48,35.5v2.5M720.02,442.5v-2.5M720.02,35.5v2.5M730.62,442.5v-2.5M730.62,35.5v2.5M739.80,442.5v-2.5M739.80,35.5v2.5M747.90,442.5v-2.5M747.90,35.5v2.5" stroke="#000" stroke-opacity="0.85" stroke-width="0.9" fill="none"/>
<g font-family="Liberation Serif, serif" font-size="34" fill="#000" text-rendering="geometricPrecision">
<text transform="translate(104.00,449.10) scale(1,1.045)" text-anchor="end">0.65</text>
<text transform="translate(105.20,392.53) scale(1,1.045)" text-anchor="end">0.70</text>
<text transform="translate(104.00,335.96) scale(1,1.045)" text-anchor="end">0.75</text>
<text transform="translate(105.20,279.39) scale(1,1.045)" text-anchor="end">0.80</text>
<text transform="translate(104.00,222.81) scale(1,1.045)" text-anchor="end">0.85</text>
<text transform="translate(105.20,166.24) scale(1,1.045)" text-anchor="end">0.90</text>
<text transform="translate(104.00,109.67) scale(1,1.045)" text-anchor="end">0.95</text>
<text transform="translate(105.20,53.10) scale(1,1.045)" text-anchor="end">1.00</text>
<text transform="translate(122.10,472.90) scale(1,1.045)" text-anchor="middle">0.1</text>
<text transform="translate(280.41,472.90) scale(1,1.045)" text-anchor="middle">1</text>
<text transform="translate(438.72,472.90) scale(1,1.045)" text-anchor="middle">10</text>
<text transform="translate(597.03,472.90) scale(1,1.045)" text-anchor="middle">100</text>
<text transform="translate(755.34,472.90) scale(1,1.045)" text-anchor="middle">1000</text>
<text transform="translate(27.00,239.50) rotate(-90) scale(1,1)" text-anchor="middle">Fidelity</text>
<text transform="translate(359.80,531.30) scale(1,1)" text-anchor="start">D,</text>
<text transform="translate(459.00,507.10) scale(1,1)" text-anchor="middle">ps</text>
<text transform="translate(450.30,555.40) scale(1,1)" text-anchor="end">nm</text>
<text transform="translate(467.80,555.40) scale(1,1)" text-anchor="start">km</text>
<circle cx="459.4" cy="546.6" r="2.15" fill="#000"/>
</g>
<rect x="406.4" y="518.4" width="107.7" height="2.6" fill="#000"/>
<g font-family="Liberation Serif, serif" font-size="34" fill="#008000" text-rendering="geometricPrecision">
<text transform="translate(666.50,110.0) scale(1,1.045)" font-style="italic">s</text>
<text transform="translate(685.70,115.30) scale(1.1,1.045)" font-size="25" text-anchor="middle">0</text>
<rect x="694.60" y="96.40" width="17.5" height="2"/>
<rect x="694.60" y="103.40" width="17.5" height="2"/>
<text transform="translate(714.90,110.0) scale(1,1.045)">10</text>
</g>
<g font-family="Liberation Serif, serif" font-size="34" fill="#808000" text-rendering="geometricPrecision">
<text transform="translate(698.40,289.3) scale(1,1.045)" font-style="italic">s</text>
<text transform="translate(717.60,294.90) scale(1.1,1.045)" font-size="25" text-anchor="middle">0</text>
<rect x="725.90" y="276.00" width="18.1" height="2"/>
<rect x="725.90" y="283.00" width="18.1" height="2"/>
<text transform="translate(745.40,289.3) scale(1,1.045)">7</text>
</g>
<g font-family="Liberation Serif, serif" font-size="34" fill="#7f3333" text-rendering="geometricPrecision">
<text transform="translate(639.40,393) scale(1,1.045)" font-style="italic">s</text>
<text transform="translate(659.10,398.40) scale(1.1,1.045)" font-size="25" text-anchor="middle">0</text>
<rect x="668.00" y="379.40" width="17.9" height="2"/>
<rect x="668.00" y="386.40" width="17.9" height="2"/>
<text transform="translate(687.30,392.2) scale(1,1.045)">4</text>
</g>
<g font-family="Liberation Serif, serif" font-size="34" fill="#000080" text-rendering="geometricPrecision">
<text transform="translate(453.20,393) scale(1,1.045)" font-style="italic">s</text>
<text transform="translate(473.00,398.40) scale(1.1,1.045)" font-size="25" text-anchor="middle">0</text>
<rect x="481.80" y="379.40" width="18.1" height="2"/>
<rect x="481.80" y="386.40" width="18.1" height="2"/>
<text transform="translate(500.60,392.8) scale(1,1.045)">1</text>
</g>
</svg>
</body></html>
